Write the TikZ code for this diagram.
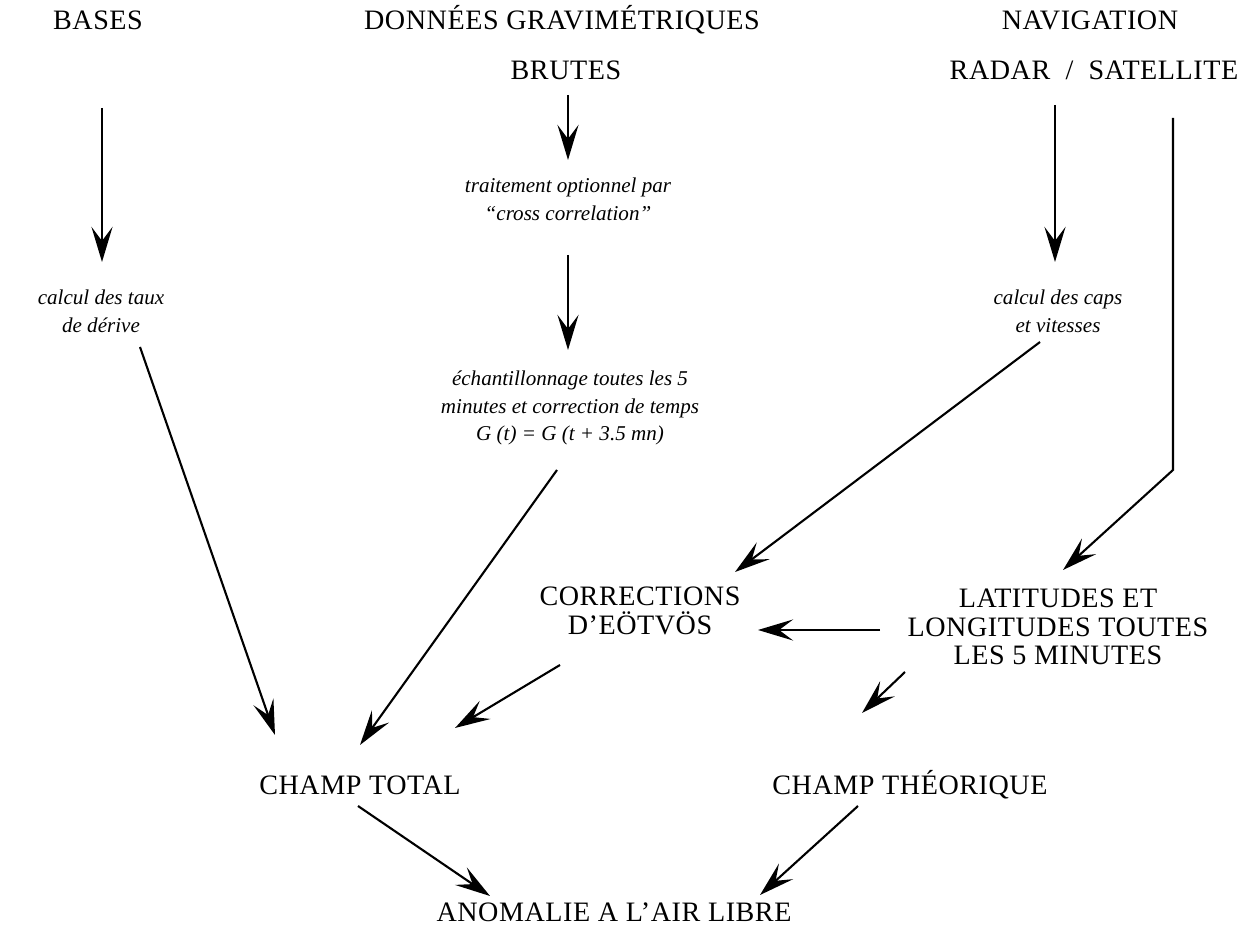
\documentclass[tikz,border=0pt]{standalone}
\usepackage{fontspec}
\setmainfont{Liberation Serif}
\newfontfamily\capsfont{Liberation Serif}[LetterSpace=2]
\usetikzlibrary{arrows.meta,calc}

\begin{document}
\begin{tikzpicture}[x=0.02cm,y=-0.02cm,
        titre/.style={font=\capsfont\fontsize{16}{16.3}\selectfont, align=center, inner sep=0pt},
        op/.style={font=\itshape\fontsize{12}{15.8}\selectfont, align=center, inner sep=0pt},
        arr/.style={-{Stealth[length=20pt,width=12pt,inset=8pt]}, line width=1.2pt}]
    \useasboundingbox (0,0) rectangle (1252,935);
    % sources
    \node[titre] (bases) at (98,20) {BASES};
    \node[titre] (donnees) at (562,20) {DONNÉES GRAVIMÉTRIQUES};
    \node[titre] (brutes) at (566,70) {BRUTES};
    \node[titre] (navig) at (1090,20) {NAVIGATION};
    \node[titre] (radar) at (1094,70) {RADAR \ / \ SATELLITE};
    % traitements
    \node[op] (taux) at (101,311) {calcul des taux\\de dérive};
    \node[op] (trait) at (568,199) {traitement optionnel par\\“cross correlation”};
    \node[op] (echant) at (570,408) {échantillonnage toutes les 5\\minutes et correction de temps\\G (t) = G (t + 3.5 mn)};
    \node[op] (caps) at (1058,311) {calcul des caps\\et vitesses};
    % resultats
    \node[titre] (corr) at (640,611) {CORRECTIONS\\D’EÖTVÖS};
    \node[titre] (lat) at (1058,627) {LATITUDES ET\\LONGITUDES TOUTES\\LES 5 MINUTES};
    \node[titre] (ctotal) at (360,785) {CHAMP TOTAL};
    \node[titre] (ctheo) at (910,785) {CHAMP THÉORIQUE};
    \node[titre] (anom) at (614,912) {ANOMALIE A L’AIR LIBRE};
    \coordinate (coin) at (1173,470);
    % fleches
    \draw[arr] ($(bases)+(4,88)$) -- ($(taux)+(1,-49)$);
    \draw[arr] ($(brutes)+(2,25)$) -- ($(trait)+(0,-39)$);
    \draw[arr] ($(trait)+(0,56)$) -- ($(echant)+(-2,-58)$);
    \draw[arr] ($(radar)+(-39,35)$) -- ($(caps)+(-3,-49)$);
    \draw[arr] ($(radar)+(79,48)$) -- (coin) -- ($(lat)+(5,-57)$);
    \draw[arr] ($(caps)+(-18,31)$) -- ($(corr)+(95,-39)$);
    \draw[arr] ($(lat)+(-178,3)$) -- ($(corr)+(118,19)$);
    \draw[arr] ($(taux)+(39,36)$) -- ($(ctotal)+(-85,-50)$);
    \draw[arr] ($(echant)+(-13,62)$) -- ($(ctotal)+(0,-40)$);
    \draw[arr] ($(corr)+(-80,54)$) -- ($(ctotal)+(95,-57)$);
    \draw[arr] ($(lat)+(-153,45)$) -- ($(ctheo)+(-48,-72)$);
    \draw[arr] ($(ctotal)+(-2,21)$) -- ($(anom)+(-124,-16)$);
    \draw[arr] ($(ctheo)+(-52,21)$) -- ($(anom)+(146,-17)$);
\end{tikzpicture}
\end{document}
